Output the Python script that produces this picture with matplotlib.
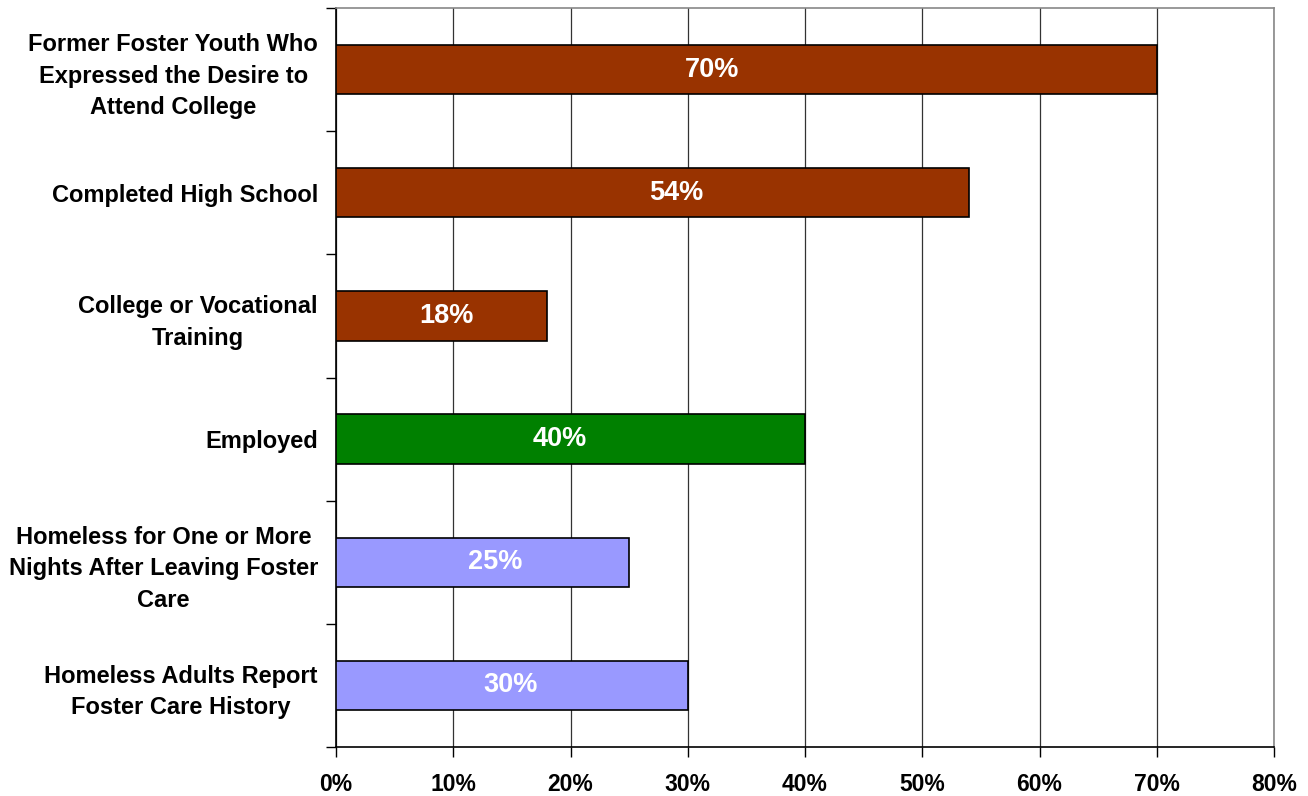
import matplotlib
matplotlib.use("Agg")
import matplotlib.pyplot as plt
import numpy as np

categories = [
    "Former Foster Youth Who\nExpressed the Desire to\nAttend College",
    "Completed High School",
    "College or Vocational\nTraining",
    "Employed",
    "Homeless for One or More\nNights After Leaving Foster\nCare",
    "Homeless Adults Report\nFoster Care History",
]
values = [70, 54, 18, 40, 25, 30]
colors = ["#993300", "#993300", "#993300", "#008000", "#9999FF", "#9999FF"]
xticks = [0, 10, 20, 30, 40, 50, 60, 70, 80]
# label offsets from bar centre (in % units), as placed in the original chart
label_shift = [-2.9, 2.0, 0.4, -0.9, 1.1, -0.1]

plt.rcParams['font.family'] = ['Liberation Sans', 'DejaVu Sans']

fig = plt.figure(figsize=(13.08, 7.96), dpi=100)
ax = fig.add_axes([336/1308, 1-747/796, (1274-336)/1308, (747-8)/796])

n = len(categories)
ypos = np.arange(n)
ax.barh(ypos, values, height=0.4, color=colors, edgecolor="black", linewidth=1.2, zorder=3)
for y, v, d in zip(ypos, values, label_shift):
    ax.text(v/2 + d, y, f"{v}%", ha="center", va="center", color="white",
            fontsize=19.5, fontweight="bold", zorder=4)

ax.set_xlim(0, 80)
ax.set_ylim(n-0.5, -0.5)
ax.set_xticks(xticks)
ax.set_xticklabels([f"{t}%" for t in xticks], fontsize=16.5, fontweight="bold")
ax.set_yticks(ypos)
ax.set_yticklabels(categories, fontsize=17, fontweight="bold", linespacing=1.47,
                   multialignment="center")
ax.set_yticks(np.arange(-0.5, n, 1.0), minor=True)
ax.tick_params(axis="y", which="major", length=0, pad=13)
ax.tick_params(axis="y", which="minor", length=7, width=1, color="black", direction="out")
ax.tick_params(axis="x", which="major", length=7, width=1, direction="out", pad=12)
ax.xaxis.grid(True, color="#333333", linewidth=0.9, zorder=0)
for s in ["left", "bottom"]:
    ax.spines[s].set_color("black")
    ax.spines[s].set_linewidth(1.2)
for s in ["top", "right"]:
    ax.spines[s].set_color("#888888")
    ax.spines[s].set_linewidth(1.2)
ax.set_axisbelow(True)

fig.savefig("out.png", dpi=100)
